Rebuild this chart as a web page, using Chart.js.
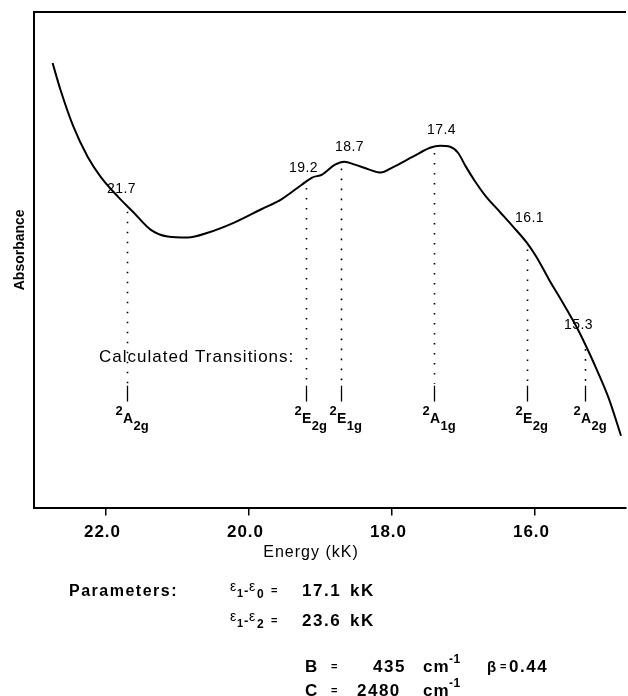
<!DOCTYPE html>
<html>
<head>
<meta charset="utf-8">
<script src="https://cdn.jsdelivr.net/npm/chart.js@4.4.1/dist/chart.umd.min.js"></script>
<style>
  html, body { margin: 0; padding: 0; background: #fff; }
  #spectrum { display: block; }
</style>
</head>
<body>
<canvas id="spectrum" width="628" height="696"></canvas>
<script>
// spectrum trace (energy in kK, absorbance in arbitrary units)
const energy = [22.74, 22.63, 22.45, 22.25, 22.07, 21.83, 21.61, 21.37, 21.13, 20.85,
                20.56, 20.20, 19.82, 19.54, 19.25, 19.11, 18.97, 18.79, 18.66, 18.51,
                18.31, 18.15, 17.99, 17.70, 17.46, 17.32, 17.18, 17.07, 16.96, 16.83,
                16.68, 16.48, 16.30, 16.11, 15.97, 15.80, 15.59, 15.38, 15.24, 15.14,
                14.96, 14.79];
const absorbance = [89.7, 84.3, 76.9, 70.8, 66.8, 62.8, 59.6, 56.1, 54.7, 54.5,
                    55.5, 57.5, 60.2, 62.2, 65.2, 66.6, 67.2, 69.2, 69.8, 69.2,
                    68.2, 67.6, 68.6, 70.8, 72.6, 73.0, 72.8, 71.6, 68.8, 65.8,
                    62.8, 59.6, 56.7, 53.5, 50.5, 46.1, 41.0, 35.6, 31.4, 28.2,
                    22.0, 14.5];

// calculated transitions
const transitions = [21.7, 19.2, 18.7, 17.4, 16.1, 15.3];
const termLetters = ['A', 'E', 'E', 'A', 'E', 'A'];
const termSubs = ['2g', '2g', '1g', '1g', '2g', '2g'];

// x axis tick labels
const xTicks = [22, 20, 18, 16];

const FONT = '"Liberation Sans", Arial, Helvetica, sans-serif';

// absorbance on the trace at a given energy, used to place the annotations
const curveAt = (e) => {
  for (let i = 0; i < energy.length - 1; i++) {
    const a = energy[i], b = energy[i + 1];
    if (e <= a && e >= b) {
      const t = (a - e) / (a - b);
      return absorbance[i] + t * (absorbance[i + 1] - absorbance[i]);
    }
  }
  return absorbance[absorbance.length - 1];
};

// label nudges (px) for the peak values
const labelDx = [-6, -3, 8, 7, 2, -7];
const labelDy = [13, 10, 12, 13, 22, 14];

const spacing = {
  id: 'spacing',
  beforeDraw(chart) {
    chart.ctx.letterSpacing = '1px';
  }
};

const annotations = {
  id: 'annotations',
  afterDraw(chart) {
    const ctx = chart.ctx;
    const xs = chart.scales.x;
    const ys = chart.scales.y;
    const area = chart.chartArea;
    ctx.save();
    ctx.fillStyle = '#000';
    ctx.strokeStyle = '#000';

    // top frame line
    ctx.lineWidth = 2;
    ctx.beginPath();
    ctx.moveTo(area.left, area.top);
    ctx.lineTo(area.right, area.top);
    ctx.stroke();

    const dotEnd = ys.getPixelForValue(25.0);
    const tickTop = ys.getPixelForValue(24.6);
    const tickBottom = ys.getPixelForValue(21.4);

    transitions.forEach((e, i) => {
      const x = Math.round(xs.getPixelForValue(e)) + 0.5;
      const yc = ys.getPixelForValue(curveAt(e));

      // dotted drop line
      ctx.lineWidth = 1.6;
      ctx.setLineDash([1.6, 8.4]);
      ctx.beginPath();
      ctx.moveTo(x, yc + 6);
      ctx.lineTo(x, dotEnd);
      ctx.stroke();

      // solid tick
      ctx.setLineDash([]);
      ctx.lineWidth = 1.3;
      ctx.beginPath();
      ctx.moveTo(x, tickTop);
      ctx.lineTo(x, tickBottom);
      ctx.stroke();

      // value above the trace
      ctx.letterSpacing = '0.5px';
      ctx.font = '14px ' + FONT;
      ctx.textAlign = 'center';
      ctx.textBaseline = 'alphabetic';
      ctx.fillText(e.toFixed(1), x + labelDx[i], yc - labelDy[i]);

      // term symbol
      ctx.letterSpacing = '0px';
      ctx.textAlign = 'left';
      ctx.font = 'bold 13px ' + FONT;
      ctx.fillText('2', x - 12, tickBottom + 13);
      ctx.font = 'bold 14px ' + FONT;
      const lx = x - 4.5;
      ctx.fillText(termLetters[i], lx, tickBottom + 21);
      const lw = ctx.measureText(termLetters[i]).width;
      ctx.font = 'bold 13px ' + FONT;
      ctx.fillText(termSubs[i], lx + lw + 0.5, tickBottom + 28);
    });

    // Calculated Transitions:
    ctx.letterSpacing = '1px';
    ctx.font = '17px ' + FONT;
    ctx.textAlign = 'left';
    ctx.fillText('Calculated Transitions:', 99, 362);

    // y axis title
    ctx.save();
    ctx.letterSpacing = '0px';
    ctx.translate(20, (area.top + area.bottom) / 2 - 10);
    ctx.rotate(-Math.PI / 2);
    ctx.textAlign = 'center';
    ctx.textBaseline = 'middle';
    ctx.font = 'bold 14px ' + FONT;
    ctx.fillText('Absorbance', 0, 0);
    ctx.restore();

    // x axis title
    ctx.letterSpacing = '1px';
    ctx.textAlign = 'center';
    ctx.textBaseline = 'alphabetic';
    ctx.font = '16px ' + FONT;
    ctx.fillText('Energy (kK)', 311, 557);

    // parameters block
    const put = (text, x, y, font, ls) => {
      ctx.letterSpacing = (ls === undefined ? 1.5 : ls) + 'px';
      ctx.font = font;
      ctx.textAlign = 'left';
      ctx.fillText(text, x, y);
    };
    const big = 'bold 17px ' + FONT;
    const eps = '14px ' + FONT;
    const sub = 'bold 11px ' + FONT;
    const eq = 'bold 11px ' + FONT;

    put('Parameters:', 69, 596, 'bold 16px ' + FONT);

    [[596, '0', '17.1'], [626, '2', '23.6']].forEach(([y, s, v]) => {
      put('\u03b5', 230, y - 5, eps, 0);
      put('1', 237, y + 1, sub, 0);
      put('-', 244, y - 1, 'bold 13px ' + FONT, 0);
      put('\u03b5', 249, y - 5, eps, 0);
      put(s, 257, y + 2, 'bold 12px ' + FONT, 0);
      put('=', 271, y - 2, eq, 0);
      put(v, 302, y, big);
      put('kK', 350, y, big);
    });

    [[672, 'B', '435', 373], [696, 'C', '2480', 357]].forEach(([y, k, v, vx]) => {
      put(k, 305, y, big);
      put('=', 331, y - 2, eq, 0);
      put(v, vx, y, big);
      put('cm', 423, y, big, 1);
      put('-1', 449, y - 9, 'bold 12px ' + FONT, 0.5);
    });
    put('\u03b2', 487, 672, 'bold 15px ' + FONT, 0);
    put('=', 500, 670, eq, 0);
    put('0.44', 509, 672, big, 1.5);

    ctx.restore();
  }
};

new Chart(document.getElementById('spectrum'), {
  type: 'line',
  data: {
    datasets: [{
      label: 'Absorbance',
      data: energy.map((e, i) => ({ x: e, y: absorbance[i] })),
      borderColor: '#000',
      borderWidth: 2,
      pointRadius: 0,
      fill: false,
      cubicInterpolationMode: 'monotone'
    }]
  },
  options: {
    responsive: false,
    animation: false,
    layout: { padding: { top: 12, right: 2, left: 34, bottom: 146 } },
    plugins: {
      legend: { display: false },
      tooltip: { enabled: false }
    },
    scales: {
      x: {
        type: 'linear',
        reverse: true,
        min: 14.72,
        max: 23.0,
        afterBuildTicks: (scale) => {
          scale.ticks = xTicks.map(v => ({ value: v }));
        },
        ticks: {
          callback: (v) => Number(v).toFixed(1),
          color: '#000',
          font: { family: FONT, size: 17, weight: 'bold' },
          padding: 7,
          labelOffset: -3,
          maxRotation: 0,
          autoSkip: false
        },
        grid: {
          display: true,
          drawOnChartArea: false,
          drawTicks: true,
          tickLength: 8,
          color: '#000',
          lineWidth: 1.5
        },
        border: { display: true, color: '#000', width: 2 }
      },
      y: {
        min: 0,
        max: 100,
        ticks: { display: false },
        grid: { display: false, drawTicks: false },
        border: { display: true, color: '#000', width: 2 }
      }
    }
  },
  plugins: [spacing, annotations]
});
</script>
</body>
</html>
